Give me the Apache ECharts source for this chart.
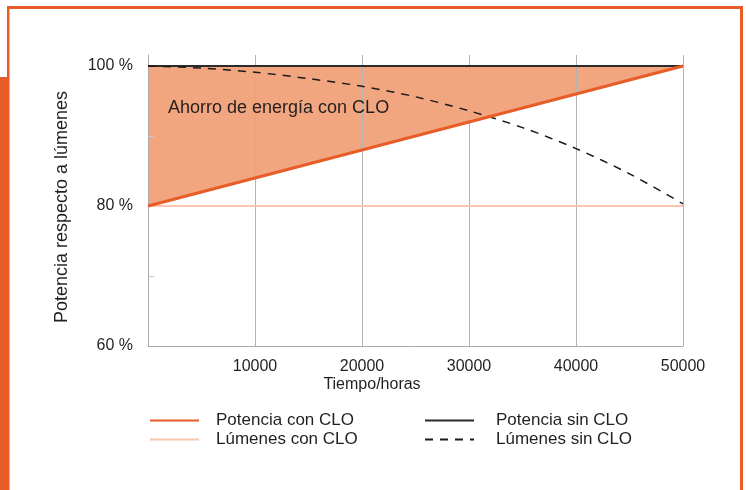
<!DOCTYPE html>
<html>
<head>
<meta charset="utf-8">
<script src="https://cdn.jsdelivr.net/npm/echarts@6/dist/echarts.min.js"></script>
<style>
  html, body { margin: 0; padding: 0; background: #fff; }
  #chart { width: 746px; height: 490px; }
</style>
</head>
<body>
<div id="chart"></div>
<script>
// horas de funcionamiento
const hours = [0, 5000, 10000, 15000, 20000, 25000, 30000, 35000, 40000, 45000, 50000]
// % respecto a lúmenes
const potenciaConCLO = [80, 82, 84, 86, 88, 90, 92, 94, 96, 98, 100]
const potenciaSinCLO = [100, 100, 100, 100, 100, 100, 100, 100, 100, 100, 100]
const lumenesConCLO = [80, 80, 80, 80, 80, 80, 80, 80, 80, 80, 80]
const lumenesSinCLO = [100, 99.7, 99.1, 98.2, 97.1, 95.6, 93.6, 91.2, 88.2, 84.6, 80.3]
const yLabels = [60, 80, 100]
const yMinorTicks = [70, 90]

const ORANGE = '#e85d27'
const FILL = '#f2a67f'
const PINK = '#f9c5ae'
const TEXT = '#231f20'
const FONT = '"Liberation Sans", Arial, Helvetica, sans-serif'

const pair = (arr) => hours.map((h, i) => [h, arr[i]])

const chart = echarts.init(document.getElementById('chart'), null, { renderer: 'canvas' })

const option = {
  animation: false,
  textStyle: { fontFamily: FONT, color: TEXT },
  grid: { left: 148, right: 63, top: 55, bottom: 144 },
  xAxis: {
    type: 'value',
    min: 0,
    max: 50000,
    interval: 10000,
    z: 3,
    axisLine: { show: true, lineStyle: { color: '#aaaaaa', width: 1 } },
    axisTick: { show: false },
    splitLine: { show: true, lineStyle: { color: '#b4b4b4', width: 1 } },
    axisLabel: {
      margin: 13,
      fontSize: 16,
      color: TEXT,
      formatter: (v) => (v === 0 ? '' : String(v))
    }
  },
  yAxis: {
    type: 'value',
    min: 60,
    max: 101.57,
    interval: 10,
    z: 3,
    axisLine: { show: true, lineStyle: { color: '#aaaaaa', width: 1 } },
    axisTick: {
      show: true,
      inside: true,
      length: 6,
      customValues: yMinorTicks,
      lineStyle: { color: '#c8c8c8' }
    },
    splitLine: { show: false },
    axisLabel: {
      margin: 15,
      fontSize: 16,
      color: TEXT,
      customValues: yLabels,
      formatter: (v) => v + ' %'
    }
  },
  legend: [
    {
      orient: 'vertical',
      left: 149,
      top: 412,
      padding: 0,
      itemWidth: 49,
      itemHeight: 19,
      itemGap: 2,
      itemStyle: { opacity: 0 },
      textStyle: { fontSize: 17, color: TEXT, padding: [0, 0, 0, 12] },
      data: ['Potencia con CLO', 'Lúmenes con CLO']
    },
    {
      orient: 'vertical',
      left: 424,
      top: 412,
      padding: 0,
      itemWidth: 49,
      itemHeight: 19,
      itemGap: 2,
      itemStyle: { opacity: 0 },
      textStyle: { fontSize: 17, color: TEXT, padding: [0, 0, 0, 17] },
      data: ['Potencia sin CLO', 'Lúmenes sin CLO']
    }
  ],
  series: [
    {
      // zona de ahorro entre las dos potencias
      name: 'Ahorro',
      type: 'line',
      data: pair(potenciaConCLO),
      showSymbol: false,
      symbol: 'none',
      lineStyle: { width: 0 },
      areaStyle: { color: FILL, opacity: 1, origin: 100 },
      z: 1
    },
    {
      name: 'Lúmenes con CLO',
      type: 'line',
      data: pair(lumenesConCLO),
      symbol: 'none',
      lineStyle: { color: PINK, width: 2 },
      itemStyle: { color: PINK },
      z: 4
    },
    {
      name: 'Potencia sin CLO',
      type: 'line',
      data: pair(potenciaSinCLO),
      symbol: 'none',
      lineStyle: { color: '#2b2b2b', width: 2 },
      itemStyle: { color: '#2b2b2b' },
      z: 4
    },
    {
      name: 'Lúmenes sin CLO',
      type: 'line',
      data: pair(lumenesSinCLO),
      symbol: 'none',
      smooth: 0.3,
      lineStyle: { color: '#1a1a1a', width: 1.5, type: [8, 7] },
      itemStyle: { color: '#1a1a1a' },
      z: 5
    },
    {
      name: 'Potencia con CLO',
      type: 'line',
      data: pair(potenciaConCLO),
      symbol: 'none',
      lineStyle: { color: ORANGE, width: 3 },
      itemStyle: { color: ORANGE },
      z: 6
    }
  ],
  graphic: [
    // marco naranja
    { type: 'rect', shape: { x: 7, y: 6, width: 736, height: 3 }, style: { fill: ORANGE }, silent: true },
    { type: 'rect', shape: { x: 7, y: 6, width: 2.5, height: 72 }, style: { fill: ORANGE }, silent: true },
    { type: 'rect', shape: { x: 0, y: 77, width: 9.5, height: 413 }, style: { fill: ORANGE }, silent: true },
    { type: 'rect', shape: { x: 740, y: 6, width: 3, height: 484 }, style: { fill: ORANGE }, silent: true },
    {
      type: 'text',
      left: 168,
      top: 99,
      z: 10,
      style: { text: 'Ahorro de energía con CLO', fontSize: 18, fill: TEXT, fontFamily: FONT }
    },
    {
      type: 'text',
      x: 372,
      y: 385,
      z: 10,
      style: { text: 'Tiempo/horas', fontSize: 16, fill: TEXT, fontFamily: FONT, align: 'center', verticalAlign: 'middle' }
    },
    {
      type: 'text',
      x: 62,
      y: 207,
      rotation: Math.PI / 2,
      z: 10,
      style: { text: 'Potencia respecto a lúmenes', fontSize: 18, fill: TEXT, fontFamily: FONT, align: 'center', verticalAlign: 'middle' }
    }
  ]
}

chart.setOption(option)
</script>
</body>
</html>
